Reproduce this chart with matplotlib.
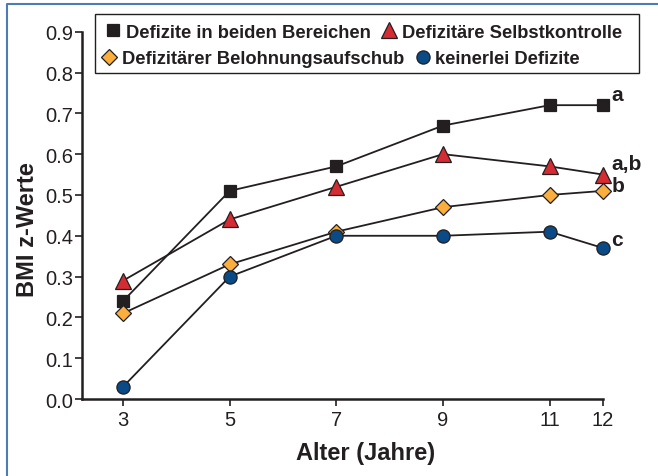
import matplotlib.pyplot as plt
from matplotlib.lines import Line2D
from matplotlib.patches import Rectangle

plt.rcParams['font.family'] = ['Liberation Sans', 'DejaVu Sans']

# Daten
alter = [3, 5, 7, 9, 11, 12]
beide = [0.24, 0.51, 0.57, 0.67, 0.72, 0.72]
selbstkontrolle = [0.29, 0.44, 0.52, 0.60, 0.57, 0.55]
belohnung = [0.21, 0.33, 0.41, 0.47, 0.50, 0.51]
keine = [0.03, 0.30, 0.40, 0.40, 0.41, 0.37]
end_labels = ['a', 'a,b', 'b', 'c']
end_offsets = [0.025, 0.028, 0.012, 0.022]

dark = '#231f20'
fig = plt.figure(figsize=(6.58, 4.77), dpi=100)
ax = fig.add_axes([0.1246, 0.1614, 0.7918, 0.77])

serien = [
    (beide, 's', dark, 8.5, 'Defizite in beiden Bereichen'),
    (selbstkontrolle, '^', '#d52b33', 12, 'Defizitäre Selbstkontrolle'),
    (belohnung, 'D', '#f9ae3d', 8.3, 'Defizitärer Belohnungsaufschub'),
    (keine, 'o', '#0a4a86', 9.5, 'keinerlei Defizite'),
]

for werte, m, c, ms, lab in serien:
    ax.plot(alter, werte, color=dark, lw=1.3, marker=m, markersize=ms,
            markerfacecolor=c, markeredgecolor=dark, markeredgewidth=0.9,
            clip_on=False, zorder=3)

# Buchstaben am Ende
for (werte, *_), txt, off in zip(serien, end_labels, end_offsets):
    ax.text(12.16, werte[-1] + off, txt, fontsize=15, fontweight='bold',
            color=dark, va='center', ha='left')

ax.set_xlim(2.23, 12)
ax.set_ylim(0, 0.9)
ax.set_xticks(alter)
ax.set_yticks([i / 10 for i in range(10)])
ax.set_yticklabels([f'{i / 10:.1f}' for i in range(10)])
ax.tick_params(labelsize=14.5, colors=dark, length=5, width=1.2, direction='out')
ax.tick_params(axis='y', pad=1.5)
ax.tick_params(axis='x', pad=3)
for s in ['top', 'right']:
    ax.spines[s].set_visible(False)
for s in ['left', 'bottom']:
    ax.spines[s].set_linewidth(1.8)
    ax.spines[s].set_color(dark)

ax.set_xlabel('Alter (Jahre)', fontsize=17, fontweight='bold', color=dark)
ax.set_ylabel('BMI z-Werte', fontsize=17, fontweight='bold', color=dark)
ax.xaxis.set_label_coords(0.545, -0.115)
ax.yaxis.set_label_coords(-0.082, 0.465)

# Legende in zwei Zeilen
def handle(m, c, ms):
    return Line2D([], [], linestyle='none', marker=m, markersize=ms,
                  markerfacecolor=c, markeredgecolor=dark, markeredgewidth=0.9)

h = [handle(m, c, ms) for _, m, c, ms, _ in serien]
labs = [s[4] for s in serien]
kw = dict(frameon=False, ncol=2, handlelength=1.0, handletextpad=0.2,
          columnspacing=0.5, borderaxespad=0, borderpad=0,
          prop={'weight': 'bold', 'size': 13.2}, loc='center left')
leg1 = fig.legend([h[0], h[1]], [labs[0], labs[1]],
                  bbox_to_anchor=(104 / 658, 1 - 33 / 477), **kw)
leg2 = fig.legend([h[2], h[3]], [labs[2], labs[3]],
                  bbox_to_anchor=(100 / 658, 1 - 60 / 477), **kw)
for leg in (leg1, leg2):
    for t in leg.get_texts():
        t.set_color(dark)
fig.add_artist(Rectangle((95 / 658, 1 - 74 / 477), (639 - 95) / 658, 59 / 477,
                         transform=fig.transFigure, fill=False, edgecolor=dark, lw=1.0))

# blauer Rahmen
fig.add_artist(Line2D([7 / 658, 7 / 658, 1], [0, 1 - 5 / 477, 1 - 5 / 477],
                      transform=fig.transFigure, color='#4a7db5', lw=1.5))

fig.savefig('out.png', dpi=100)
